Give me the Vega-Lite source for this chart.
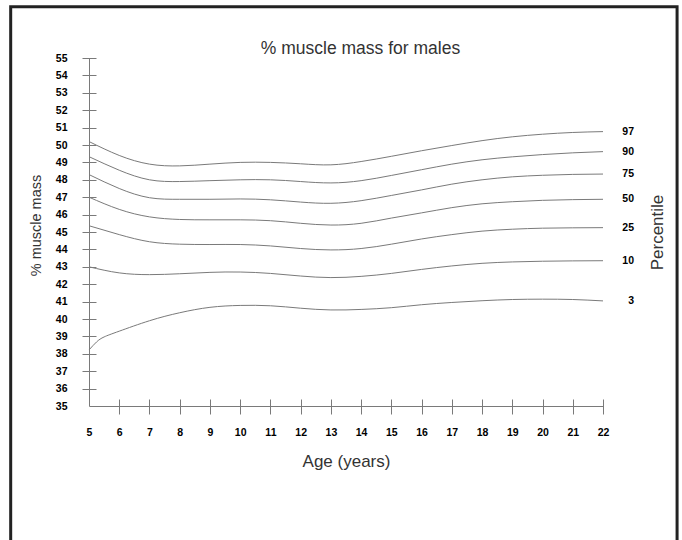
{
  "$schema": "https://vega.github.io/schema/vega-lite/v6.json",
  "width": 514,
  "height": 348,
  "autosize": {"type": "none"},
  "padding": {"left": 89, "top": 58, "right": 79, "bottom": 134},
  "background": "white",
  "config": {"view": {"stroke": null}},
  "resolve": {"axis": {"x": "independent", "y": "independent"}},
  "data": {
    "values": [
      {"age": 5, "pct": "97", "muscle": 50.2}, {"age": 6, "pct": "97", "muscle": 49.4}, {"age": 7, "pct": "97", "muscle": 48.9}, {"age": 8, "pct": "97", "muscle": 48.8}, {"age": 9, "pct": "97", "muscle": 48.9}, {"age": 10, "pct": "97", "muscle": 49.0}, {"age": 11, "pct": "97", "muscle": 49.0}, {"age": 12, "pct": "97", "muscle": 48.92}, {"age": 13, "pct": "97", "muscle": 48.86}, {"age": 14, "pct": "97", "muscle": 49.05}, {"age": 15, "pct": "97", "muscle": 49.35}, {"age": 16, "pct": "97", "muscle": 49.67}, {"age": 17, "pct": "97", "muscle": 49.97}, {"age": 18, "pct": "97", "muscle": 50.25}, {"age": 19, "pct": "97", "muscle": 50.47}, {"age": 20, "pct": "97", "muscle": 50.62}, {"age": 21, "pct": "97", "muscle": 50.72}, {"age": 22, "pct": "97", "muscle": 50.77},
      {"age": 5, "pct": "90", "muscle": 49.33}, {"age": 6, "pct": "90", "muscle": 48.55}, {"age": 7, "pct": "90", "muscle": 48.0}, {"age": 8, "pct": "90", "muscle": 47.9}, {"age": 9, "pct": "90", "muscle": 47.95}, {"age": 10, "pct": "90", "muscle": 48.0}, {"age": 11, "pct": "90", "muscle": 48.0}, {"age": 12, "pct": "90", "muscle": 47.9}, {"age": 13, "pct": "90", "muscle": 47.82}, {"age": 14, "pct": "90", "muscle": 47.95}, {"age": 15, "pct": "90", "muscle": 48.25}, {"age": 16, "pct": "90", "muscle": 48.58}, {"age": 17, "pct": "90", "muscle": 48.9}, {"age": 18, "pct": "90", "muscle": 49.15}, {"age": 19, "pct": "90", "muscle": 49.32}, {"age": 20, "pct": "90", "muscle": 49.45}, {"age": 21, "pct": "90", "muscle": 49.55}, {"age": 22, "pct": "90", "muscle": 49.62},
      {"age": 5, "pct": "75", "muscle": 48.3}, {"age": 6, "pct": "75", "muscle": 47.5}, {"age": 7, "pct": "75", "muscle": 46.97}, {"age": 8, "pct": "75", "muscle": 46.88}, {"age": 9, "pct": "75", "muscle": 46.88}, {"age": 10, "pct": "75", "muscle": 46.9}, {"age": 11, "pct": "75", "muscle": 46.85}, {"age": 12, "pct": "75", "muscle": 46.72}, {"age": 13, "pct": "75", "muscle": 46.65}, {"age": 14, "pct": "75", "muscle": 46.8}, {"age": 15, "pct": "75", "muscle": 47.1}, {"age": 16, "pct": "75", "muscle": 47.42}, {"age": 17, "pct": "75", "muscle": 47.75}, {"age": 18, "pct": "75", "muscle": 48.0}, {"age": 19, "pct": "75", "muscle": 48.17}, {"age": 20, "pct": "75", "muscle": 48.26}, {"age": 21, "pct": "75", "muscle": 48.31}, {"age": 22, "pct": "75", "muscle": 48.33},
      {"age": 5, "pct": "50", "muscle": 47.0}, {"age": 6, "pct": "50", "muscle": 46.3}, {"age": 7, "pct": "50", "muscle": 45.87}, {"age": 8, "pct": "50", "muscle": 45.72}, {"age": 9, "pct": "50", "muscle": 45.7}, {"age": 10, "pct": "50", "muscle": 45.7}, {"age": 11, "pct": "50", "muscle": 45.65}, {"age": 12, "pct": "50", "muscle": 45.5}, {"age": 13, "pct": "50", "muscle": 45.4}, {"age": 14, "pct": "50", "muscle": 45.5}, {"age": 15, "pct": "50", "muscle": 45.8}, {"age": 16, "pct": "50", "muscle": 46.1}, {"age": 17, "pct": "50", "muscle": 46.4}, {"age": 18, "pct": "50", "muscle": 46.62}, {"age": 19, "pct": "50", "muscle": 46.74}, {"age": 20, "pct": "50", "muscle": 46.82}, {"age": 21, "pct": "50", "muscle": 46.86}, {"age": 22, "pct": "50", "muscle": 46.88},
      {"age": 5, "pct": "25", "muscle": 45.36}, {"age": 6, "pct": "25", "muscle": 44.85}, {"age": 7, "pct": "25", "muscle": 44.44}, {"age": 8, "pct": "25", "muscle": 44.3}, {"age": 9, "pct": "25", "muscle": 44.28}, {"age": 10, "pct": "25", "muscle": 44.28}, {"age": 11, "pct": "25", "muscle": 44.2}, {"age": 12, "pct": "25", "muscle": 44.05}, {"age": 13, "pct": "25", "muscle": 43.97}, {"age": 14, "pct": "25", "muscle": 44.05}, {"age": 15, "pct": "25", "muscle": 44.3}, {"age": 16, "pct": "25", "muscle": 44.6}, {"age": 17, "pct": "25", "muscle": 44.85}, {"age": 18, "pct": "25", "muscle": 45.05}, {"age": 19, "pct": "25", "muscle": 45.16}, {"age": 20, "pct": "25", "muscle": 45.22}, {"age": 21, "pct": "25", "muscle": 45.24}, {"age": 22, "pct": "25", "muscle": 45.25},
      {"age": 5, "pct": "10", "muscle": 43.0}, {"age": 6, "pct": "10", "muscle": 42.65}, {"age": 7, "pct": "10", "muscle": 42.55}, {"age": 8, "pct": "10", "muscle": 42.6}, {"age": 9, "pct": "10", "muscle": 42.68}, {"age": 10, "pct": "10", "muscle": 42.7}, {"age": 11, "pct": "10", "muscle": 42.62}, {"age": 12, "pct": "10", "muscle": 42.47}, {"age": 13, "pct": "10", "muscle": 42.38}, {"age": 14, "pct": "10", "muscle": 42.45}, {"age": 15, "pct": "10", "muscle": 42.62}, {"age": 16, "pct": "10", "muscle": 42.85}, {"age": 17, "pct": "10", "muscle": 43.05}, {"age": 18, "pct": "10", "muscle": 43.2}, {"age": 19, "pct": "10", "muscle": 43.28}, {"age": 20, "pct": "10", "muscle": 43.32}, {"age": 21, "pct": "10", "muscle": 43.34}, {"age": 22, "pct": "10", "muscle": 43.35},
      {"age": 5, "pct": "3", "muscle": 38.22}, {"age": 5.25, "pct": "3", "muscle": 38.68}, {"age": 5.5, "pct": "3", "muscle": 38.97}, {"age": 6, "pct": "3", "muscle": 39.3}, {"age": 7, "pct": "3", "muscle": 39.9}, {"age": 8, "pct": "3", "muscle": 40.36}, {"age": 9, "pct": "3", "muscle": 40.67}, {"age": 10, "pct": "3", "muscle": 40.78}, {"age": 11, "pct": "3", "muscle": 40.76}, {"age": 12, "pct": "3", "muscle": 40.62}, {"age": 13, "pct": "3", "muscle": 40.52}, {"age": 14, "pct": "3", "muscle": 40.55}, {"age": 15, "pct": "3", "muscle": 40.65}, {"age": 16, "pct": "3", "muscle": 40.82}, {"age": 17, "pct": "3", "muscle": 40.95}, {"age": 18, "pct": "3", "muscle": 41.05}, {"age": 19, "pct": "3", "muscle": 41.12}, {"age": 20, "pct": "3", "muscle": 41.14}, {"age": 21, "pct": "3", "muscle": 41.12}, {"age": 22, "pct": "3", "muscle": 41.04}
    ]
  },
  "layer": [
    {
      "data": {"values": [{"frame": "page"}]},
      "mark": {"type": "rect", "fillOpacity": 0, "stroke": "#222222", "strokeWidth": 3, "clip": false},
      "encoding": {
        "x": {"datum": 2.41, "type": "quantitative", "scale": {"domain": [5, 22], "nice": false, "zero": false},
          "axis": {"orient": "top", "title": "% muscle mass for males", "domain": false, "ticks": false, "labels": false, "grid": false,
            "titleFont": "Liberation Sans", "titleFontSize": 17.5, "titleFontWeight": "normal", "titleColor": "#333333",
            "titleX": 271, "titleBaseline": "bottom", "titlePadding": 1}},
        "x2": {"datum": 24.45},
        "y": {"datum": 57.95, "type": "quantitative", "scale": {"domain": [35, 55], "nice": false, "zero": false},
          "axis": {"orient": "right", "title": "Percentile", "domain": false, "ticks": false, "labels": false, "grid": false,
            "titleFont": "Liberation Sans", "titleFontSize": 17, "titleFontWeight": "normal", "titleColor": "#333333",
            "titleAngle": 270, "titleBaseline": "top", "titlePadding": 46}},
        "y2": {"datum": 26}
      }
    },
    {
      "mark": {"type": "line", "interpolate": "natural", "stroke": "#7a7a7a", "strokeWidth": 1},
      "encoding": {
        "x": {"field": "age", "type": "quantitative", "scale": {"domain": [5, 22], "nice": false, "zero": false},
          "axis": {"orient": "bottom", "values": [5, 6, 7, 8, 9, 10, 11, 12, 13, 14, 15, 16, 17, 18, 19, 20, 21, 22],
            "ticks": false, "grid": false, "domainColor": "#7a7a7a", "domainWidth": 1, "labelFlush": false,
            "labelFont": "Liberation Sans", "labelFontWeight": "bold", "labelFontSize": 10.5, "labelColor": "#000000", "labelPadding": 21,
            "title": "Age (years)", "titleFont": "Liberation Sans", "titleFontSize": 17, "titleFontWeight": "normal", "titleColor": "#333333", "titlePadding": 16}},
        "y": {"field": "muscle", "type": "quantitative", "scale": {"domain": [35, 55], "nice": false, "zero": false},
          "axis": {"orient": "left", "values": [35, 36, 37, 38, 39, 40, 41, 42, 43, 44, 45, 46, 47, 48, 49, 50, 51, 52, 53, 54, 55],
            "ticks": false, "grid": false, "domainColor": "#7a7a7a", "domainWidth": 1, "labelFlush": false,
            "labelFont": "Liberation Sans", "labelFontWeight": "bold", "labelFontSize": 10.5, "labelColor": "#000000", "labelPadding": 22,
            "title": "% muscle mass", "titleFont": "Liberation Sans", "titleFontSize": 14.5, "titleFontWeight": "normal", "titleColor": "#333333", "titlePadding": 12, "titleY": 167}},
        "detail": {"field": "pct", "type": "nominal"}
      }
    },
    {
      "transform": [{"filter": "datum.age == 22"}],
      "mark": {"type": "text", "align": "right", "baseline": "middle", "dx": 31, "font": "Liberation Sans", "fontWeight": "bold", "fontSize": 10.5, "color": "#000000"},
      "encoding": {
        "x": {"field": "age", "type": "quantitative", "scale": {"domain": [5, 22], "nice": false, "zero": false},
          "axis": {"orient": "bottom", "values": [6, 7, 8, 9, 10, 11, 12, 13, 14, 15, 16, 17, 18, 19, 20, 21, 22],
            "offset": -7, "tickSize": 15, "tickColor": "#7a7a7a", "tickWidth": 1, "domain": false, "labels": false, "grid": false, "title": null}},
        "y": {"field": "muscle", "type": "quantitative", "scale": {"domain": [35, 55], "nice": false, "zero": false},
          "axis": {"orient": "left", "values": [36, 37, 38, 39, 40, 41, 42, 43, 44, 45, 46, 47, 48, 49, 50, 51, 52, 53, 54, 55],
            "offset": -7, "tickSize": 14, "tickColor": "#7a7a7a", "tickWidth": 1, "domain": false, "labels": false, "grid": false, "title": null}},
        "text": {"field": "pct", "type": "nominal"}
      }
    }
  ]
}
